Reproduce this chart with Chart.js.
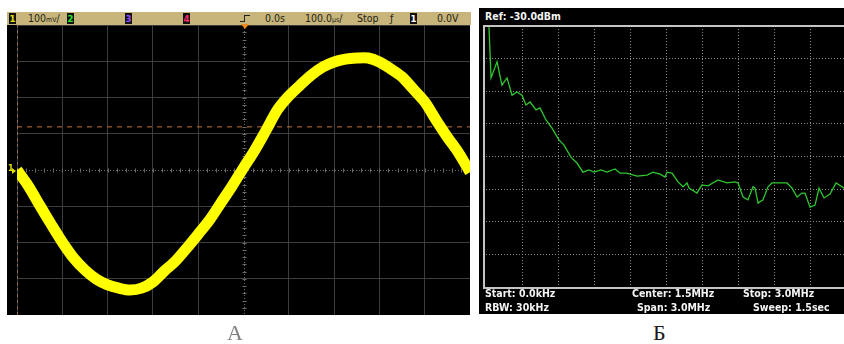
<!DOCTYPE html>
<html>
<head>
<meta charset="utf-8">
<script src="https://cdn.jsdelivr.net/npm/chart.js@4"></script>
<style>
  body { margin: 0; width: 844px; height: 344px; overflow: hidden; background: #fff; position: relative; }
  .abs { position: absolute; }
  .panel { position: absolute; background: #000; }
  .bar { position: absolute; left: 7px; top: 12px; width: 464px; height: 13px; background: #c8b57c; }
  .st { position: absolute; top: 12px; height: 13px; line-height: 13px; font: 10.5px "Liberation Sans Narrow", "DejaVu Sans Condensed", sans-serif; color: #1e1e14; white-space: nowrap; }
  .st small { font-size: 7px; }
  .box { position: absolute; top: 13px; width: 7px; height: 11px; line-height: 11px; background: #111; font: bold 9.5px "DejaVu Sans Condensed", sans-serif; text-align: center; }
  .sa { position: absolute; font: bold 10.5px "Liberation Sans Narrow", "DejaVu Sans Condensed", sans-serif; color: #f4f4f4; white-space: nowrap; line-height: 12px; }
  .cap { position: absolute; top: 322px; font: 22px "Liberation Serif", "DejaVu Serif", serif; line-height: 22px; }
</style>
</head>
<body>

<!-- scope panel (A) -->
<div class="bar"></div>
<div class="panel" style="left:7px; top:25px; width:463px; height:290px;">
  <canvas id="scope" width="463" height="290"></canvas>
</div>

<!-- spectrum panel (B) -->
<div class="panel" style="left:479px; top:8px; width:380px; height:306px;"></div>
<canvas id="spec" class="abs" style="left:484px; top:26px;" width="364" height="262"></canvas>
<div class="abs" style="left:483px; top:25px; width:380px; height:264px; border:2px solid #c4c4c4; box-sizing:border-box;"></div>

<script>
// Scope trace: time in us, level in mV
const scopeTimes = [-500, -475, -450, -425, -400, -375, -350, -325, -300, -275, -250, -225, -200, -175, -150, -125, -100, -75, -50, -25,
    0, 25, 50, 75, 100, 125, 150, 175, 200, 225, 250, 275, 300, 325, 350, 375, 400, 425, 450, 475, 500];
const scopeVolts = [0, -44, -97, -149, -199, -243, -276, -301, -317, -326, -331, -326, -309, -279, -251, -215, -177, -138, -91, -44,
    6, 55, 110, 166, 204, 234, 262, 284, 298, 306, 309, 309, 298, 279, 257, 223, 188, 138, 91, 47, -6];
const triggerLevel = 119;

// Spectrum trace: frequency in MHz, level in dBm
const specFreqs = [0.02, 0.042, 0.092, 0.133, 0.175, 0.217, 0.258, 0.300, 0.333, 0.367, 0.417, 0.450, 0.500, 0.550, 0.608, 0.650,
    0.708, 0.758, 0.808, 0.858, 0.900, 0.958, 1.008, 1.075, 1.117, 1.175, 1.258, 1.342, 1.392, 1.450, 1.492, 1.508, 1.550,
    1.600, 1.642, 1.675, 1.692, 1.758, 1.800, 1.850, 1.933, 2.008, 2.075, 2.100, 2.142, 2.183, 2.225, 2.242, 2.267, 2.308,
    2.350, 2.383, 2.433, 2.508, 2.550, 2.592, 2.633, 2.658, 2.700, 2.742, 2.775, 2.817, 2.867, 2.917, 2.983, 3.0];
const specLevels = [-26, -45.9, -41.0, -48.1, -45.9, -51.2, -50.2, -51.2, -54.2, -53.3, -55.7, -55.1, -58.8, -61.3, -64.9, -66.5,
    -70.2, -72.0, -74.8, -74.1, -74.8, -74.1, -74.8, -73.8, -75.1, -75.1, -76.0, -75.7, -74.8, -75.4, -76.3, -74.8, -75.1,
    -77.8, -79.3, -78.1, -79.7, -81.2, -78.7, -79.0, -77.2, -78.1, -77.8, -78.1, -82.4, -83.3, -79.3, -79.7, -84.3, -83.3,
    -79.3, -78.1, -78.1, -78.1, -79.7, -82.4, -81.2, -81.2, -85.5, -84.9, -79.7, -82.7, -81.5, -78.1, -79.7, -79.5];

// Status line and footer texts
const scopeStatus = [
    { x: 28, html: '100<small>mV</small>/' },
    { x: 265, html: '0.0s' },
    { x: 305, html: '100.0<small>µs</small>/' },
    { x: 357, html: 'Stop' },
    { x: 390, html: 'ƒ' },
    { x: 437, html: '0.0V' }
];
const channelBoxes = [
    { x: 9, text: '1', color: '#e6e200' },
    { x: 67, text: '2', color: '#2ee82e' },
    { x: 125, text: '3', color: '#9a4cff' },
    { x: 183, text: '4', color: '#ff2a6a' },
    { x: 410, text: '1', color: '#ffffff' }
];
const specTexts = [
    { x: 485, y: 10, text: 'Ref: -30.0dBm' },
    { x: 485, y: 287, text: 'Start: 0.0kHz' },
    { x: 485, y: 301, text: 'RBW: 30kHz' },
    { x: 632, y: 287, text: 'Center: 1.5MHz' },
    { x: 637, y: 301, text: 'Span: 3.0MHz' },
    { x: 743, y: 287, text: 'Stop: 3.0MHz' },
    { x: 753, y: 301, text: 'Sweep: 1.5sec' }
];

// put the texts on the page
scopeStatus.forEach(s => {
    const el = document.createElement('div');
    el.className = 'st';
    el.style.left = s.x + 'px';
    el.innerHTML = s.html;
    document.body.appendChild(el);
});
channelBoxes.forEach(b => {
    const el = document.createElement('div');
    el.className = 'box';
    el.style.left = b.x + 'px';
    el.style.color = b.color;
    el.textContent = b.text;
    document.body.appendChild(el);
});
specTexts.forEach(t => {
    const el = document.createElement('div');
    el.className = 'sa';
    el.style.left = t.x + 'px';
    el.style.top = t.y + 'px';
    el.textContent = t.text;
    document.body.appendChild(el);
});

// trigger edge icon and position marker
document.body.insertAdjacentHTML('beforeend',
    '<div class="abs" style="left:244px; top:15px; width:5px; height:6px; border-top:1.5px solid #222; border-left:1.5px solid #222;"></div>' +
    '<div class="abs" style="left:240px; top:21px; width:5px; border-top:1.5px solid #222;"></div>' +
    '<div class="abs" style="left:241px; top:24px; width:0; height:0; border-left:4px solid transparent; border-right:4px solid transparent; border-top:5px solid #f08a20;"></div>' +
    '<div class="abs" style="left:8px; top:164px; font:bold 8px DejaVu Sans, sans-serif; color:#e6e200;">1</div>' +
    '<div class="abs" style="left:12px; top:168px; width:0; height:0; border-top:3px solid transparent; border-bottom:3px solid transparent; border-left:4px solid #e6e200;"></div>' +
    '<div class="cap" style="left:227px; color:#808080; filter:blur(0.6px);">А</div>' +
    '<div class="cap" style="left:653px; color:#1a1a1a;">Б</div>');

// dotted centre cross with small ticks, like the scope graticule
const centreCross = {
    id: 'centreCross',
    beforeDatasetsDraw(chart) {
        const { ctx, chartArea, scales } = chart;
        const cx = Math.round(scales.x.getPixelForValue(0)) + 0.5;
        const cy = Math.round(scales.y.getPixelForValue(0)) + 0.5;
        ctx.save();
        ctx.strokeStyle = '#6a6a6a';
        ctx.lineWidth = 1;
        ctx.setLineDash([1, 2]);
        ctx.beginPath();
        ctx.moveTo(chartArea.left, cy); ctx.lineTo(chartArea.right, cy);
        ctx.moveTo(cx, chartArea.top); ctx.lineTo(cx, chartArea.bottom);
        ctx.stroke();
        ctx.setLineDash([]);
        ctx.beginPath();
        for (let t = -500; t <= 500; t += 20) {
            const px = Math.round(scales.x.getPixelForValue(t)) + 0.5;
            ctx.moveTo(px, cy - 2); ctx.lineTo(px, cy + 2);
        }
        for (let v = -400; v <= 400; v += 20) {
            const py = Math.round(scales.y.getPixelForValue(v)) + 0.5;
            ctx.moveTo(cx - 2, py); ctx.lineTo(cx + 2, py);
        }
        ctx.stroke();
        ctx.restore();
    }
};

const hiddenTicks = { display: false };

// Scope chart
new Chart(document.getElementById('scope'), {
    type: 'line',
    data: {
        datasets: [
            {
                data: scopeTimes.map((t, i) => ({ x: t, y: scopeVolts[i] })),
                borderColor: '#ffff00',
                borderWidth: 11,
                tension: 0.3,
                pointRadius: 0
            },
            {
                data: [{ x: -500, y: triggerLevel }, { x: 500, y: triggerLevel }],
                borderColor: '#c4703a',
                borderWidth: 1,
                borderDash: [5, 5],
                pointRadius: 0
            },
            {
                data: [{ x: -500, y: -400 }, { x: -500, y: 400 }],
                borderColor: '#e0a070',
                borderWidth: 1,
                borderDash: [3, 3],
                pointRadius: 0
            }
        ]
    },
    options: {
        responsive: false,
        animation: false,
        layout: { padding: { left: 10, right: 0, top: 0, bottom: 0 } },
        plugins: { legend: { display: false }, tooltip: { enabled: false } },
        scales: {
            x: {
                type: 'linear', min: -500, max: 500,
                ticks: { stepSize: 100, display: false },
                grid: { color: c => c.tick && c.tick.value === 0 ? 'transparent' : '#3d3d3d', drawTicks: false },
                border: { display: false }
            },
            y: {
                min: -400, max: 400,
                ticks: { stepSize: 100, display: false },
                grid: { color: c => c.tick && c.tick.value === 0 ? 'transparent' : '#3d3d3d', drawTicks: false },
                border: { display: false }
            }
        }
    },
    plugins: [centreCross]
});

// Spectrum chart
new Chart(document.getElementById('spec'), {
    type: 'line',
    data: {
        datasets: [{
            data: specFreqs.map((f, i) => ({ x: f, y: specLevels[i] })),
            borderColor: '#2ec82e',
            borderWidth: 1.3,
            pointRadius: 0
        }]
    },
    options: {
        responsive: false,
        animation: false,
        layout: { padding: { left: 2, right: 2, top: 0, bottom: 1 } },
        plugins: { legend: { display: false }, tooltip: { enabled: false } },
        scales: {
            x: {
                type: 'linear', min: 0, max: 3,
                ticks: { stepSize: 0.3, display: false },
                grid: { color: c => (c.index === 0 || c.index === 10) ? 'transparent' : '#8c8c8c', drawTicks: false },
                border: { display: false, dash: [1, 2] }
            },
            y: {
                min: -110, max: -30,
                ticks: { stepSize: 10, display: false },
                grid: { color: c => (c.index === 0 || c.index === 8) ? 'transparent' : '#8c8c8c', drawTicks: false },
                border: { display: false, dash: [1, 2] }
            }
        }
    }
});
</script>
</body>
</html>
